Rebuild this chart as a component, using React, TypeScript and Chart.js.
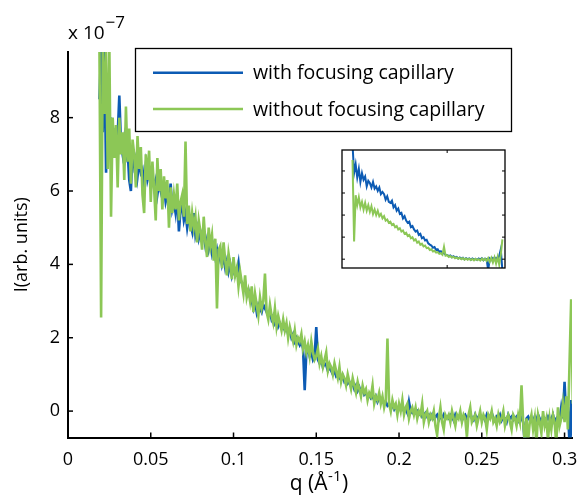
import React, { useEffect, useRef } from 'react';
import { Chart, registerables } from 'chart.js';

Chart.register(...registerables);

// ---------- data (intensity in units of 1e-7) ----------
const qMain = [
  0.019, 0.020, 0.021, 0.022, 0.023, 0.024, 0.025, 0.026, 0.027, 0.028, 0.029,
  0.030, 0.031, 0.032, 0.033, 0.034, 0.035, 0.036, 0.037, 0.038, 0.039,
  0.040, 0.041, 0.042, 0.043, 0.044, 0.045, 0.046, 0.047, 0.048, 0.049,
  0.050, 0.051, 0.052, 0.053, 0.054, 0.055, 0.056, 0.057, 0.058, 0.059,
  0.060, 0.061, 0.062, 0.063, 0.064, 0.065, 0.066, 0.067, 0.068, 0.069,
  0.070, 0.071, 0.072, 0.073, 0.074, 0.075, 0.076, 0.077, 0.078, 0.079,
  0.080, 0.081, 0.082, 0.083, 0.084, 0.085, 0.086, 0.087, 0.088, 0.089,
  0.090, 0.091, 0.092, 0.093, 0.094, 0.095, 0.096, 0.097, 0.098, 0.099,
  0.100, 0.101, 0.102, 0.103, 0.104, 0.105, 0.106, 0.107, 0.108, 0.109,
  0.110, 0.111, 0.112, 0.113, 0.114, 0.115, 0.116, 0.117, 0.118, 0.119,
  0.120, 0.121, 0.122, 0.123, 0.124, 0.125, 0.126, 0.127, 0.128, 0.129,
  0.130, 0.131, 0.132, 0.133, 0.134, 0.135, 0.136, 0.137, 0.138, 0.139,
  0.140, 0.141, 0.142, 0.143, 0.144, 0.145, 0.146, 0.147, 0.148, 0.149,
  0.150, 0.151, 0.152, 0.153, 0.154, 0.155, 0.156, 0.157, 0.158, 0.159,
  0.160, 0.161, 0.162, 0.163, 0.164, 0.165, 0.166, 0.167, 0.168, 0.169,
  0.170, 0.171, 0.172, 0.173, 0.174, 0.175, 0.176, 0.177, 0.178, 0.179,
  0.180, 0.181, 0.182, 0.183, 0.184, 0.185, 0.186, 0.187, 0.188, 0.189,
  0.190, 0.191, 0.192, 0.193, 0.194, 0.195, 0.196, 0.197, 0.198, 0.199,
  0.200, 0.201, 0.202, 0.203, 0.204, 0.205, 0.206, 0.207, 0.208, 0.209,
  0.210, 0.211, 0.212, 0.213, 0.214, 0.215, 0.216, 0.217, 0.218, 0.219,
  0.220, 0.221, 0.222, 0.223, 0.224, 0.225, 0.226, 0.227, 0.228, 0.229,
  0.230, 0.231, 0.232, 0.233, 0.234, 0.235, 0.236, 0.237, 0.238, 0.239,
  0.240, 0.241, 0.242, 0.243, 0.244, 0.245, 0.246, 0.247, 0.248, 0.249,
  0.250, 0.251, 0.252, 0.253, 0.254, 0.255, 0.256, 0.257, 0.258, 0.259,
  0.260, 0.261, 0.262, 0.263, 0.264, 0.265, 0.266, 0.267, 0.268, 0.269,
  0.270, 0.271, 0.272, 0.273, 0.274, 0.275, 0.276, 0.277, 0.278, 0.279,
  0.280, 0.281, 0.282, 0.283, 0.284, 0.285, 0.286, 0.287, 0.288, 0.289,
  0.290, 0.291, 0.292, 0.293, 0.294, 0.295, 0.296, 0.297, 0.298, 0.299,
  0.300, 0.301, 0.302, 0.303, 0.304, 0.305,
];

const withCapillary = [
  8.5, 9.9, 7.6, 9.9, 6.5, 8.8, 7.2, 8.0, 6.9, 7.7, 7.3,
  7.5, 8.6, 7.3, 7.0, 7.4, 6.9, 7.1, 6.3, 6.0, 7.2,
  6.7, 6.9, 6.4, 6.8, 6.5, 6.6, 6.2, 6.7, 6.3, 6.5,
  6.2, 6.4, 6.1, 6.3, 5.9, 6.2, 6.0, 5.8, 6.1, 5.7,
  5.9, 5.6, 6.2, 5.5, 5.7, 5.4, 5.9, 4.9, 5.5, 5.6,
  5.2, 5.4, 5.0, 5.3, 5.1, 4.9, 5.4, 4.8, 5.0, 4.7,
  4.9, 4.7, 4.8, 4.5, 4.7, 4.4, 4.6, 4.3, 4.5, 4.2,
  4.4, 4.1, 4.3, 4.0, 4.2, 3.9, 4.1, 3.8, 4.0, 3.7,
  3.9, 3.7, 3.8, 4.05, 3.6, 3.5, 3.4, 3.5, 3.2, 3.3,
  3.1, 3.0, 2.8, 3.0, 2.7, 2.9, 2.8, 2.7, 2.9, 2.8,
  2.7, 2.6, 2.7, 2.5, 2.6, 2.4, 2.5, 2.3, 2.4, 2.3,
  2.3, 2.2, 2.3, 2.1, 2.2, 2.0, 2.1, 1.9, 2.0, 1.9,
  1.8, 1.9, 1.7, 0.57, 1.6, 1.7, 1.5, 1.6, 1.4, 1.5,
  2.29, 1.4, 1.3, 1.4, 1.2, 1.3, 1.25, 1.1, 1.2, 1.1,
  1.0, 1.1, 0.95, 1.0, 0.9, 0.85, 0.95, 0.8, 0.85, 0.75,
  0.8, 0.7, 0.75, 0.6, 0.7, 0.55, 0.65, 0.5, 0.6, 0.45,
  0.5, 0.4, 0.45, 0.35, 0.4, 0.3, 0.4, 0.25, 0.35, 0.3,
  0.3, 0.2, 0.25, 0.15, 0.2, 0.1, 0.15, 0.05, 0.15, 0.0,
  0.1, 0.05, 0.1, 0.0, 0.05, -0.05, 0.25, 0.0, -0.05, 0.0,
  -0.05, 0.0, -0.1, -0.05, -0.15, -0.1, -0.05, -0.15, -0.1, -0.2,
  -0.1, -0.2, -0.15, -0.1, -0.25, -0.15, -0.2, -0.1, -0.2, -0.15,
  -0.2, -0.1, -0.15, -0.25, -0.1, -0.2, -0.15, -0.1, -0.25, -0.15,
  -0.1, -0.2, -0.15, -0.05, -0.2, -0.25, -0.1, -0.2, -0.15, -0.1,
  -0.2, -0.15, -0.25, -0.1, -0.2, -0.15, -0.05, -0.2, -0.25, -0.15,
  -0.2, -0.1, -0.25, -0.15, -0.2, -0.3, -0.1, -0.2, -0.15, -0.25,
  -0.2, -0.15, -0.25, -0.1, -0.2, -0.3, -0.9, -0.2, -0.15, -0.25,
  -0.2, -0.3, -0.15, -0.25, -0.1, -0.2, -0.3, -0.15, -0.2, -0.25,
  -0.15, -0.25, -0.2, -0.1, -0.3, -0.2, -0.15, -0.25, 0.1, -0.2,
  0.8, -0.2, 0.1, -0.9, 0.3, -0.9,
];

const withoutCapillary = [
  9.9, 2.55, 9.9, 8.1, 9.9, 6.6, 9.9, 5.3, 8.0, 6.9, 7.8,
  6.1, 8.0, 7.0, 7.6, 6.3, 8.3, 6.8, 7.7, 6.2, 7.4,
  7.0, 6.1, 7.5, 6.6, 7.2, 5.9, 5.4, 7.0, 6.3, 7.1,
  5.7, 6.8, 6.1, 5.2, 6.9, 6.0, 6.6, 5.5, 6.4, 5.8,
  6.3, 5.0, 6.1, 5.4, 5.9, 5.5, 6.2, 5.2, 5.7, 5.9,
  5.3, 7.35, 5.1, 5.6, 4.9, 5.4, 5.0, 5.3, 4.6, 5.2,
  4.9, 4.4, 5.3, 4.6, 4.2, 5.0, 4.5, 4.8, 4.1, 4.7,
  2.8, 4.4, 4.5, 3.9, 4.6, 4.1, 3.7, 4.3, 4.0, 3.6,
  4.2, 3.7, 3.9, 3.4, 3.8, 3.5, 3.2, 3.7, 3.1, 3.3,
  3.0, 3.4, 2.7, 3.2, 2.9, 2.6, 3.1, 2.8, 3.0, 3.75,
  2.7, 2.5, 2.9, 2.6, 2.4, 2.8, 2.3, 2.6, 2.4, 2.2,
  2.5, 2.2, 2.4, 2.0, 2.3, 2.1, 1.9, 2.2, 1.8, 2.0,
  1.9, 2.1, 1.7, 1.9, 1.6, 1.8, 1.5, 1.9, 1.6, 1.4,
  1.5, 1.7, 1.3, 1.5, 1.2, 1.4, 1.6, 1.1, 1.3, 1.2,
  1.0, 1.3, 1.1, 0.9, 1.2, 0.8, 1.0, 0.9, 0.7, 1.0,
  0.8, 0.6, 0.9, 0.7, 0.5, 0.8, 0.6, 0.4, 0.7, 0.5,
  0.6, 0.3, 0.5, 0.4, 0.7, 0.2, 0.4, 0.3, 0.5, 0.2,
  0.4, 0.1, 0.3, 1.98, 0.2, 0.0, 0.3, 0.1, 0.2, -0.1,
  0.2, 0.0, 0.3, -0.1, 0.1, 0.2, -0.2, 0.0, 0.1, -0.1,
  0.1, -0.2, 0.0, -0.1, 0.2, -0.3, -0.1, 0.0, -0.3, -0.1,
  -0.2, 0.0, -0.4, -0.65, -0.2, 0.1, -0.3, -0.5, -0.1, -0.2,
  -0.1, -0.3, 0.0, -0.2, -0.4, -0.1, -0.2, 0.0, -0.3, -0.1,
  -0.2, -0.7, -0.1, 0.1, -0.3, -0.2, -0.1, -0.4, -0.2, 0.0,
  -0.3, -0.1, -0.2, -0.5, -0.1, -0.2, 0.0, -0.3, -0.2, -0.4,
  -0.1, -0.3, -0.2, 0.0, -0.4, -0.2, -0.1, -0.3, -0.5, -0.1,
  -0.2, -0.4, -0.1, -0.3, 0.7, -0.3, -0.9, -0.2, -0.8, -0.3,
  -0.1, -0.5, -0.2, -0.9, -0.1, -0.3, -0.6, 0.0, -0.4, -0.2,
  -0.8, -0.2, -0.5, -0.1, -0.3, -0.9, 0.1, -0.4, -0.2, 0.2,
  -0.3, 0.4, -0.5, 1.3, 3.05, 0.2,
];

// inset (arbitrary units)
const qInset = [
  0.020, 0.023, 0.026, 0.029, 0.032, 0.035, 0.038, 0.041, 0.044, 0.047,
  0.050, 0.053, 0.056, 0.059, 0.062, 0.065, 0.068, 0.071, 0.074, 0.077,
  0.080, 0.083, 0.086, 0.089, 0.092, 0.095, 0.098, 0.101, 0.104, 0.107,
  0.110, 0.113, 0.116, 0.119, 0.122, 0.125, 0.128, 0.131, 0.134, 0.137,
  0.140, 0.143, 0.146, 0.149, 0.152, 0.155, 0.158, 0.161, 0.164, 0.167,
  0.170, 0.173, 0.176, 0.179, 0.182, 0.185, 0.188, 0.191, 0.194, 0.197,
  0.200, 0.203, 0.206, 0.209, 0.212, 0.215, 0.218, 0.221, 0.224, 0.227,
  0.230, 0.233, 0.236, 0.239, 0.242, 0.245, 0.248, 0.251, 0.254, 0.257,
  0.260, 0.263, 0.266, 0.269, 0.272, 0.275, 0.278, 0.281, 0.284, 0.287,
  0.290, 0.293, 0.296, 0.299, 0.302, 0.305,
];

const insetWith = [
  5.2, 3.9, 4.3, 3.7, 4.1, 3.5, 3.9, 3.6, 3.75, 3.3,
  3.55, 3.45, 3.25, 3.5, 3.2, 3.3, 3.1, 3.25, 2.95, 3.05,
  2.95, 2.7, 2.85, 2.6, 2.55, 2.65, 2.35, 2.45, 2.2, 2.3,
  2.05, 2.1, 1.85, 1.95, 1.75, 1.65, 1.7, 1.45, 1.5, 1.35,
  1.25, 1.3, 1.1, 1.15, 0.95, 1.0, 0.85, 0.88, 0.72, 0.66,
  0.62, 0.52, 0.55, 0.42, 0.45, 0.33, 0.36, 0.27, 0.28, 0.2,
  0.19, 0.14, 0.17, 0.09, 0.13, 0.07, 0.1, 0.03, 0.08, 0.02,
  0.06, -0.01, 0.04, 0.0, 0.03, -0.03, 0.03, -0.02, 0.01, -0.04,
  0.03, -0.02, 0.04, -0.05, 0.02, 0.0, -0.5, 0.03, -0.04, 0.05,
  -0.02, 0.06, 0.0, 0.15, 0.45, -0.5,
];

const insetWithout = [
  4.5, 0.8, 2.9, 2.45, 2.8, 2.35, 2.6, 2.25, 2.55, 2.2,
  2.45, 2.15, 2.4, 2.05, 2.25, 2.0, 2.2, 1.95, 2.05, 1.85,
  1.95, 1.75, 1.8, 1.65, 1.7, 1.55, 1.6, 1.45, 1.5, 1.35,
  1.4, 1.25, 1.3, 1.15, 1.2, 1.05, 1.1, 0.95, 1.0, 0.85,
  0.9, 0.75, 0.8, 0.65, 0.7, 0.58, 0.62, 0.5, 0.52, 0.42,
  0.45, 0.35, 0.38, 0.3, 0.32, 0.24, 0.27, 0.2, 0.56, 0.16,
  0.18, 0.1, 0.14, 0.07, 0.11, 0.04, 0.08, 0.02, 0.06, 0.0,
  0.05, -0.02, 0.03, -0.03, 0.02, -0.04, 0.01, -0.05, 0.02, -0.04,
  0.0, -0.06, 0.03, -0.05, 0.02, -0.08, 0.05, -0.12, 0.06, -0.15,
  0.08, -0.2, 0.1, -0.25, 0.2, 0.9,
];

const seriesLabels = ['with focusing capillary', 'without focusing capillary'];
const xTickValues = [0, 0.05, 0.1, 0.15, 0.2, 0.25, 0.3];
const xTickLabels = ['0', '0.05', '0.1', '0.15', '0.2', '0.25', '0.3'];
const yTickValues = [0, 2, 4, 6, 8];
const yTickLabels = ['0', '2', '4', '6', '8'];
const insetXTicks = [0.2];
const insetYTicks = [0, 1, 2, 3, 4];

const BLUE = '#0c5bb4';
const GREEN = '#8cc756';
const FONT = '"Open Sans", Lato, sans-serif';
const FS_TICK = 18;
const FS_LEG = 19.5;
const FS_TITLE = 21;

const mainDecor = {
  id: 'mainDecor',
  afterDraw(chart: any) {
    const ctx = chart.ctx as CanvasRenderingContext2D;
    const { left, bottom } = chart.chartArea;
    const xs = chart.scales.x;
    const ys = chart.scales.y;
    ctx.save();
    ctx.strokeStyle = '#000';
    ctx.lineWidth = 1.5;
    xTickValues.forEach((v) => {
      if (v === 0) return;
      const px = xs.getPixelForValue(v);
      ctx.beginPath();
      ctx.moveTo(px, bottom);
      ctx.lineTo(px, bottom - 5);
      ctx.stroke();
    });
    yTickValues.forEach((v) => {
      const py = ys.getPixelForValue(v);
      ctx.beginPath();
      ctx.moveTo(left, py);
      ctx.lineTo(left + 5, py);
      ctx.stroke();
    });

    // legend box
    const bx = 135, by = 48, bw = 376, bh = 83;
    ctx.fillStyle = '#fff';
    ctx.fillRect(bx, by, bw, bh);
    ctx.lineWidth = 1.3;
    ctx.strokeStyle = '#000';
    ctx.strokeRect(bx + 0.5, by + 0.5, bw, bh);
    ctx.font = `${FS_LEG}px ${FONT}`;
    ctx.textBaseline = 'middle';
    ctx.textAlign = 'left';
    chart.data.datasets.forEach((ds: any, i: number) => {
      const ly = 72.7 + i * 36.3;
      ctx.strokeStyle = ds.borderColor;
      ctx.lineWidth = 2.6;
      ctx.beginPath();
      ctx.moveTo(153, ly);
      ctx.lineTo(243, ly);
      ctx.stroke();
      ctx.fillStyle = '#000';
      ctx.fillText(ds.label, 253, ly + 1);
    });

    // exponent label
    ctx.fillStyle = '#000';
    ctx.textBaseline = 'alphabetic';
    ctx.font = `${FS_TICK + 1}px ${FONT}`;
    ctx.fillText('x 10', 68, 39);
    const w10 = ctx.measureText('x 10').width;
    ctx.font = `${FS_TICK - 1}px ${FONT}`;
    ctx.fillText('\u22127', 68 + w10 + 1, 28);

    // x axis title with superscript
    const a = 'q (\u00C5';
    const c = ')';
    const bTxt = '-1';
    ctx.font = `${FS_TITLE - 6}px ${FONT}`;
    const wb = ctx.measureText(bTxt).width;
    ctx.font = `${FS_TITLE}px ${FONT}`;
    const wa = ctx.measureText(a).width;
    const wc = ctx.measureText(c).width;
    const total = wa + wb + wc + 1;
    const sx = 319 - total / 2;
    const base = 490;
    ctx.fillText(a, sx, base);
    ctx.fillText(c, sx + wa + wb + 1, base);
    ctx.font = `${FS_TITLE - 6}px ${FONT}`;
    ctx.fillText(bTxt, sx + wa + 0.5, base - 9);
    ctx.restore();
  },
};

const insetDecor = {
  id: 'insetDecor',
  beforeDatasetsDraw(chart: any) {
    const ctx = chart.ctx as CanvasRenderingContext2D;
    const { left, top, right, bottom } = chart.chartArea;
    ctx.save();
    ctx.fillStyle = '#fff';
    ctx.fillRect(left, top, right - left, bottom - top);
    ctx.restore();
  },
  afterDraw(chart: any) {
    const ctx = chart.ctx as CanvasRenderingContext2D;
    const { left, top, right, bottom } = chart.chartArea;
    const xs = chart.scales.x;
    const ys = chart.scales.y;
    ctx.save();
    ctx.strokeStyle = '#000';
    ctx.lineWidth = 1.3;
    ctx.strokeRect(left, top, right - left, bottom - top);
    ctx.lineWidth = 1;
    insetYTicks.forEach((v) => {
      const py = ys.getPixelForValue(v);
      ctx.beginPath();
      ctx.moveTo(left, py);
      ctx.lineTo(left + 3, py);
      ctx.moveTo(right, py);
      ctx.lineTo(right - 3, py);
      ctx.stroke();
    });
    insetXTicks.forEach((v) => {
      const px = xs.getPixelForValue(v);
      ctx.beginPath();
      ctx.moveTo(px, top);
      ctx.lineTo(px, top + 3);
      ctx.moveTo(px, bottom);
      ctx.lineTo(px, bottom - 3);
      ctx.stroke();
    });
    ctx.restore();
  },
};

export default function App() {
  const mainRef = useRef<HTMLCanvasElement>(null);
  const insetRef = useRef<HTMLCanvasElement>(null);

  useEffect(() => {
    document.body.style.margin = '0';
    const main = new Chart(mainRef.current as HTMLCanvasElement, {
      type: 'line',
      data: {
        datasets: [
          {
            label: seriesLabels[0],
            data: qMain.map((q, i) => ({ x: q, y: withCapillary[i] })),
            borderColor: BLUE,
            borderWidth: 2.6,
            pointRadius: 0,
            tension: 0,
            order: 2,
            clip: 0,
          },
          {
            label: seriesLabels[1],
            data: qMain.map((q, i) => ({ x: q, y: withoutCapillary[i] })),
            borderColor: GREEN,
            borderWidth: 2.6,
            pointRadius: 0,
            tension: 0,
            order: 1,
            clip: 0,
          },
        ],
      },
      options: {
        responsive: false,
        animation: false,
        devicePixelRatio: 1,
        events: [],
        layout: { padding: { left: 0, top: 52, right: 9, bottom: 0 } },
        plugins: { legend: { display: false }, tooltip: { enabled: false } },
        scales: {
          x: {
            type: 'linear',
            min: 0,
            max: 0.3045,
            afterFit: (s: any) => {
              s.height = 59.5;
              s.paddingLeft = 0;
              s.paddingRight = 0;
            },
            afterBuildTicks: (s: any) => {
              s.ticks = xTickValues.map((v) => ({ value: v }));
            },
            ticks: {
              callback: (_v: any, i: number) => xTickLabels[i],
              font: { family: FONT, size: FS_TICK },
              color: '#000',
              padding: 12,
              maxRotation: 0,
              autoSkip: false,
            },
            grid: { display: true, drawOnChartArea: false, drawTicks: false },
            border: { display: true, color: '#000', width: 2 },
          },
          y: {
            type: 'linear',
            min: -0.72,
            max: 9.79,
            afterFit: (s: any) => {
              s.width = 68;
              s.paddingTop = 0;
              s.paddingBottom = 0;
            },
            afterBuildTicks: (s: any) => {
              s.ticks = yTickValues.map((v) => ({ value: v }));
            },
            ticks: {
              callback: (_v: any, i: number) => yTickLabels[i],
              font: { family: FONT, size: FS_TICK },
              color: '#000',
              padding: 8,
              autoSkip: false,
            },
            grid: { display: true, drawOnChartArea: false, drawTicks: false },
            border: { display: true, color: '#000', width: 2 },
            title: {
              display: true,
              text: 'I(arb. units)',
              font: { family: FONT, size: FS_TICK },
              color: '#000',
              padding: { top: 11, bottom: 0 },
            },
          },
        },
      },
      plugins: [mainDecor],
    } as any);

    const inset = new Chart(insetRef.current as HTMLCanvasElement, {
      type: 'line',
      data: {
        datasets: [
          {
            label: seriesLabels[0],
            data: qInset.map((q, i) => ({ x: q, y: insetWith[i] })),
            borderColor: BLUE,
            borderWidth: 2,
            pointRadius: 0,
            tension: 0,
            order: 2,
            clip: 0,
          },
          {
            label: seriesLabels[1],
            data: qInset.map((q, i) => ({ x: q, y: insetWithout[i] })),
            borderColor: GREEN,
            borderWidth: 2,
            pointRadius: 0,
            tension: 0,
            order: 1,
            clip: 0,
          },
        ],
      },
      options: {
        responsive: false,
        animation: false,
        devicePixelRatio: 1,
        events: [],
        layout: { padding: { left: 12, top: 10, right: 15, bottom: 12 } },
        plugins: { legend: { display: false }, tooltip: { enabled: false } },
        scales: {
          x: { type: 'linear', min: 0, max: 0.31, display: false },
          y: { type: 'linear', min: -0.4, max: 4.95, display: false },
        },
      },
      plugins: [insetDecor],
    } as any);

    return () => {
      main.destroy();
      inset.destroy();
    };
  }, []);

  return (
    <div style={{ position: 'fixed', left: 0, top: 0, width: 581, height: 497, background: '#fff' }}>
      <canvas
        ref={mainRef}
        width={581}
        height={497}
        style={{ position: 'absolute', left: 0, top: 0, width: 581, height: 497 }}
      />
      <canvas
        ref={insetRef}
        width={190}
        height={140}
        style={{ position: 'absolute', left: 330, top: 140, width: 190, height: 140 }}
      />
    </div>
  );
}
